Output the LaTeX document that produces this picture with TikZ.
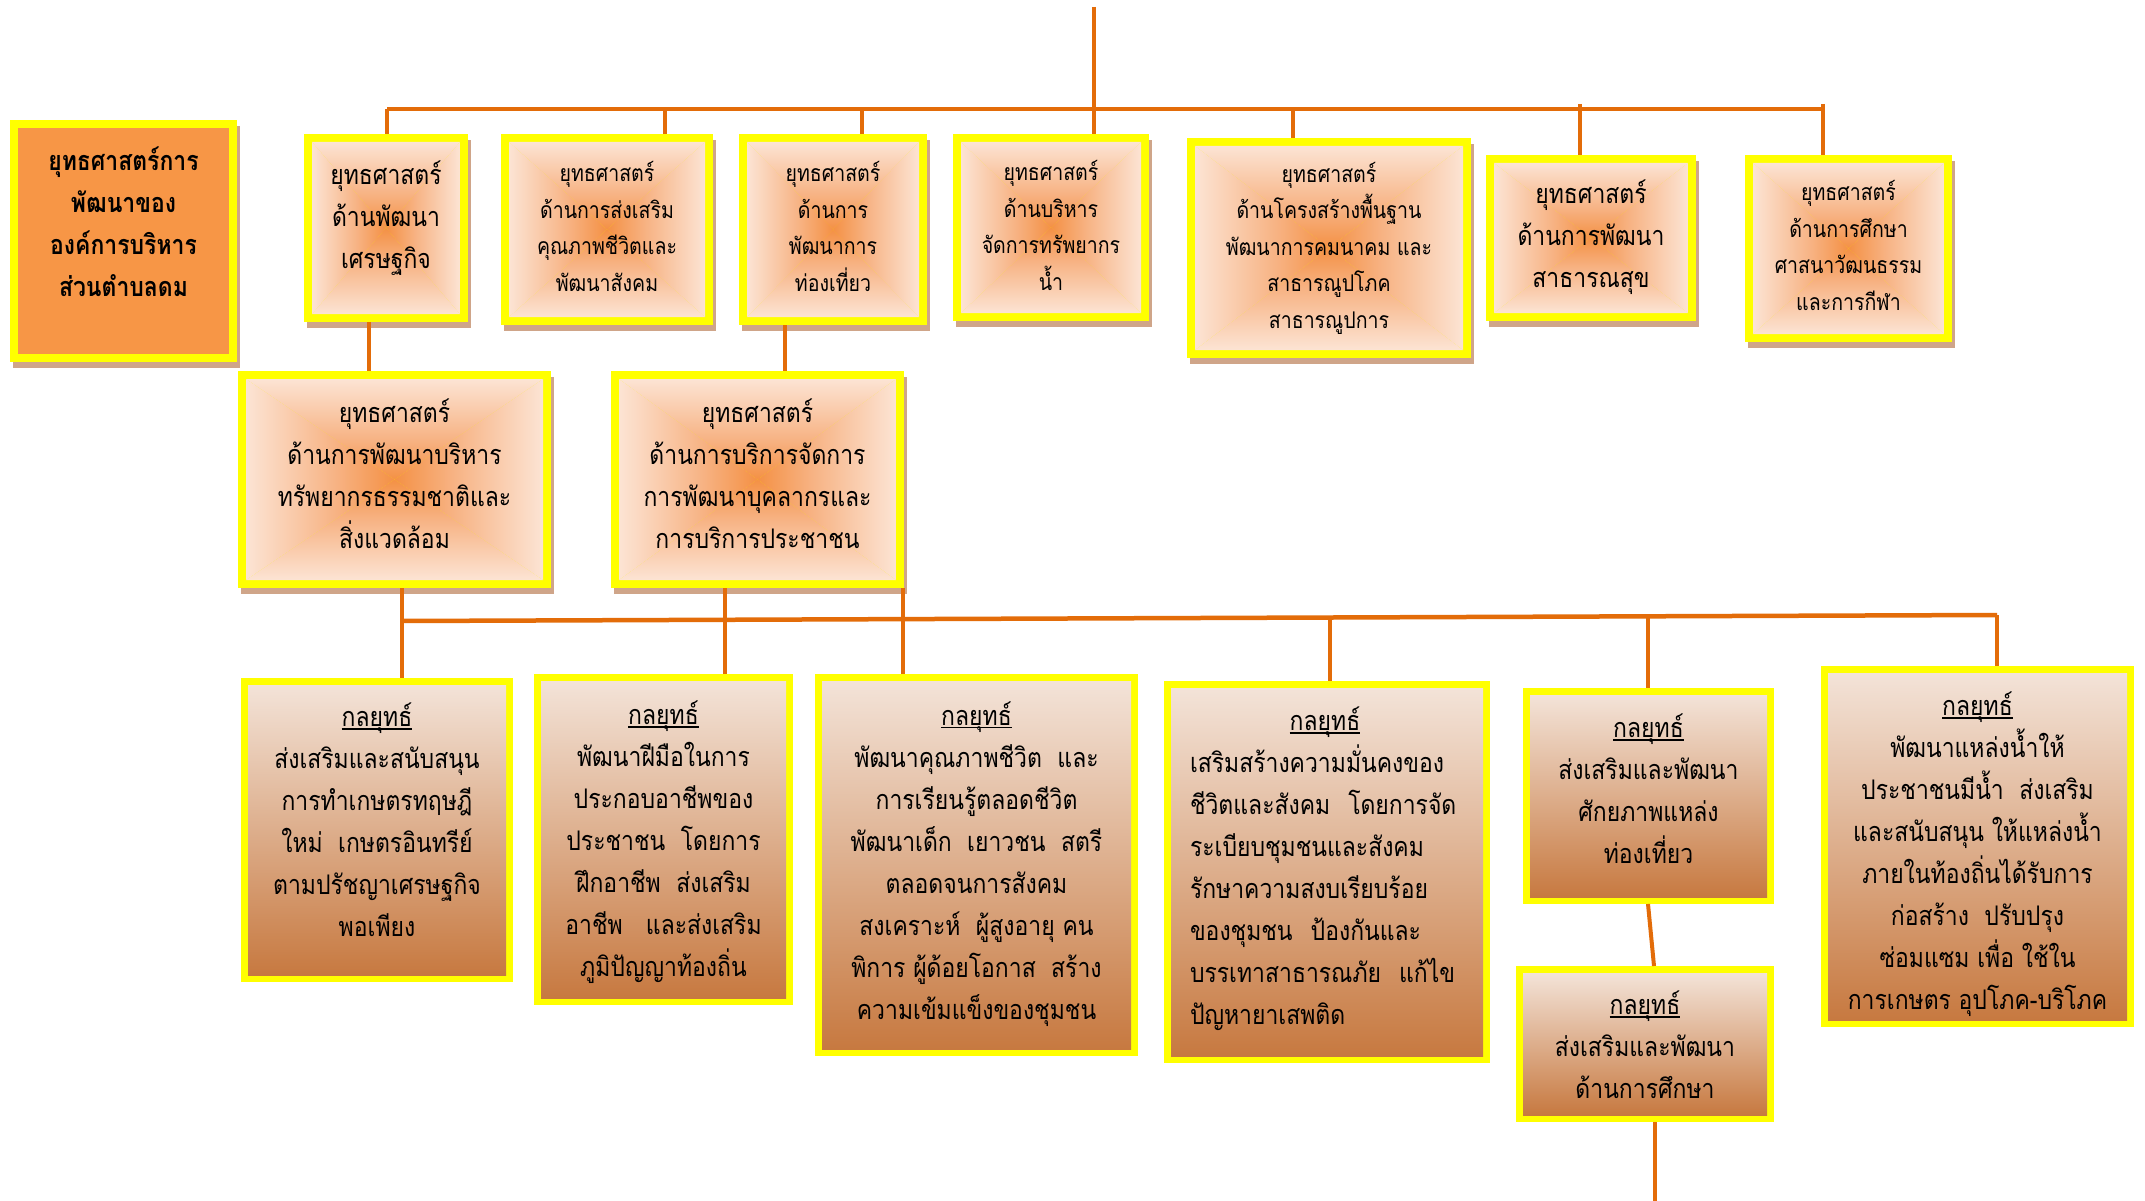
\documentclass[tikz,border=0pt]{standalone}
\usepackage{fontspec}
\newfontfamily\thai[Script=Thai,FakeStretch=0.85]{Loma}
\usetikzlibrary{calc}
\definecolor{yel}{HTML}{FFFF00}
\definecolor{lineor}{HTML}{E36C09}
\definecolor{cen}{HTML}{F49145}
\definecolor{midc}{HTML}{F7B384}
\definecolor{edge}{HTML}{FCE4D4}
\definecolor{shad}{HTML}{CFA589}
\definecolor{obox}{HTML}{F79646}
\definecolor{btop}{HTML}{F3E3D8}
\definecolor{bbot}{HTML}{C77940}
\pgfdeclareverticalshading{sUp}{100bp}{color(0bp)=(cen); color(25bp)=(cen); color(45bp)=(midc); color(75bp)=(edge); color(100bp)=(edge)}
\pgfdeclareverticalshading{sDown}{100bp}{color(0bp)=(edge); color(25bp)=(edge); color(55bp)=(midc); color(75bp)=(cen); color(100bp)=(cen)}
\pgfdeclarehorizontalshading{sRight}{100bp}{color(0bp)=(cen); color(25bp)=(cen); color(45bp)=(midc); color(75bp)=(edge); color(100bp)=(edge)}
\pgfdeclarehorizontalshading{sLeft}{100bp}{color(0bp)=(edge); color(25bp)=(edge); color(55bp)=(midc); color(75bp)=(cen); color(100bp)=(cen)}
\newcommand\Lg{\fontsize{27}{42}\selectfont}
\newcommand\Sm{\fontsize{23}{36.5}\selectfont}
\newcommand\ul[1]{\setbox0\hbox{#1}\rlap{\rule[-3pt]{\wd0}{1.6pt}}\box0}
% star-gradient box: [font]{name}{x1}{y1}{x2}{y2}{dy}{text}
\newcommand\starbox[8][\Lg]{%
  \pgfmathsetmacro\sbxa{#3+8}\pgfmathsetmacro\sbxb{#5-8}%
  \pgfmathsetmacro\sbya{#4+8}\pgfmathsetmacro\sbyb{#6-8}%
  \pgfmathsetmacro\sbcx{(#3+#5)/2}\pgfmathsetmacro\sbcy{(#4+#6)/2}%
  \pgfmathsetmacro\sbty{\sbcy+(#7)}%
  \fill[shad] (#3+3,#4+6) rectangle (#5+3,#6+6);
  \node[frame, minimum width={#5-#3}, minimum height={#6-#4}] (#2) at (\sbcx,\sbcy) {};
  \begin{scope}\clip (\sbxa,\sbya)--(\sbxb,\sbya)--(\sbcx,\sbcy)--cycle;
    \shade[shading=sUp] (\sbxa,\sbya) rectangle (\sbxb,\sbcy);\end{scope}
  \begin{scope}\clip (\sbxa,\sbyb)--(\sbxb,\sbyb)--(\sbcx,\sbcy)--cycle;
    \shade[shading=sDown] (\sbxa,\sbcy) rectangle (\sbxb,\sbyb);\end{scope}
  \begin{scope}\clip (\sbxa,\sbya)--(\sbxa,\sbyb)--(\sbcx,\sbcy)--cycle;
    \shade[shading=sLeft] (\sbxa,\sbya) rectangle (\sbcx,\sbyb);\end{scope}
  \begin{scope}\clip (\sbxb,\sbya)--(\sbxb,\sbyb)--(\sbcx,\sbcy)--cycle;
    \shade[shading=sRight] (\sbcx,\sbya) rectangle (\sbxb,\sbyb);\end{scope}
  \node[txt, font=\thai#1] (#2t) at (\sbcx,\sbty) {#8};
}
% vertical-gradient box: [text options]{name}{x1}{y1}{x2}{y2}{dy}{text}
\newcommand\gradbox[8][]{%
  \pgfmathsetmacro\sbxa{#3+7}\pgfmathsetmacro\sbxb{#5-7}%
  \pgfmathsetmacro\sbya{#4+7}\pgfmathsetmacro\sbyb{#6-7}%
  \pgfmathsetmacro\sbcx{(#3+#5)/2}\pgfmathsetmacro\sbcy{(#4+#6)/2}%
  \pgfmathsetmacro\sbty{\sbcy+(#7)}%
  \node[frame, minimum width={#5-#3}, minimum height={#6-#4}] (#2) at (\sbcx,\sbcy) {};
  \shade[top color=btop, bottom color=bbot] (\sbxa,\sbya) rectangle (\sbxb,\sbyb);
  \node[txt, font=\thai\Lg, #1] (#2t) at (\sbcx,\sbty) {#8};
}
\begin{document}
\begin{tikzpicture}[x=1pt,y=-1pt,
  conn/.style={draw=lineor, line width=4pt},
  bus/.style={draw=lineor, line width=4.5pt},
  frame/.style={fill=yel, inner sep=0pt, outer sep=0pt},
  txt/.style={align=center, inner sep=0pt, text=black}]
\useasboundingbox[fill=white] (0,0) rectangle (2145,1201);

% left title box
\fill[shad] (13,126) rectangle (240,368);
\node[frame, minimum width=227, minimum height=242] (L) at (123.5,241) {};
\fill[obox] (18,128) rectangle (229,354);
\node[txt, font=\thai\bfseries\Lg] (Lt) at (123.5,222) {ยุทธศาสตร์การ\\พัฒนาของ\\องค์การบริหาร\\ส่วนตำบลดม};

% top row
\starbox{b1}{304}{134}{468}{322}{-10}{ยุทธศาสตร์\\ด้านพัฒนา\\เศรษฐกิจ}
\starbox[\Sm]{b2}{501}{134}{713}{325}{-3}{ยุทธศาสตร์\\ด้านการส่งเสริม\\คุณภาพชีวิตและ\\พัฒนาสังคม}
\starbox[\Sm]{b3}{739}{134}{927}{325}{-3}{ยุทธศาสตร์\\ด้านการ\\พัฒนาการ\\ท่องเที่ยว}
\starbox[\Sm]{b4}{953}{134}{1149}{321}{-2}{ยุทธศาสตร์\\ด้านบริหาร\\จัดการทรัพยากร\\น้ำ}
\starbox[\Sm]{b5}{1187}{138}{1471}{358}{0}{ยุทธศาสตร์\\ด้านโครงสร้างพื้นฐาน\\พัฒนาการคมนาคม และ\\สาธารณูปโภค\\สาธารณูปการ}
\starbox{b6}{1486}{155}{1696}{321}{-1}{ยุทธศาสตร์\\ด้านการพัฒนา\\สาธารณสุข}
\starbox[\Sm]{b7}{1745}{155}{1952}{342}{-3}{ยุทธศาสตร์\\ด้านการศึกษา\\ศาสนาวัฒนธรรม\\และการกีฬา}

% second row
\starbox{A}{238}{371}{551}{588}{-6}{ยุทธศาสตร์\\ด้านการพัฒนาบริหาร\\ทรัพยากรธรรมชาติและ\\สิ่งแวดล้อม}
\starbox{B}{611}{371}{904}{588}{-6}{ยุทธศาสตร์\\ด้านการบริการจัดการ\\การพัฒนาบุคลากรและ\\การบริการประชาชน}

% bottom row
\gradbox{C}{241}{678}{513}{982}{-10}{\ul{กลยุทธ์}\\ส่งเสริมและสนับสนุน\\การทำเกษตรทฤษฎี\\ใหม่~~เกษตรอินทรีย์\\ตามปรัชญาเศรษฐกิจ\\พอเพียง}
\gradbox{D}{534}{674}{793}{1005}{3}{\ul{กลยุทธ์}\\พัฒนาฝีมือในการ\\ประกอบอาชีพของ\\ประชาชน~~โดยการ\\ฝึกอาชีพ~~ส่งเสริม\\อาชีพ~~~และส่งเสริม\\ภูมิปัญญาท้องถิ่น}
\gradbox{E}{815}{674}{1138}{1056}{-1}{\ul{กลยุทธ์}\\พัฒนาคุณภาพชีวิต~~และ\\การเรียนรู้ตลอดชีวิต\\พัฒนาเด็ก~~เยาวชน~~สตรี\\ตลอดจนการสังคม\\สงเคราะห์~~ผู้สูงอายุ คน\\พิการ ผู้ด้อยโอกาส~~สร้าง\\ความเข้มแข็งของชุมชน}
\gradbox[align=left, text width=270, xshift=-2]{F}{1164}{681}{1490}{1063}{-3}{\makebox[270pt]{\ul{กลยุทธ์}}\\เสริมสร้างความมั่นคงของ\\ชีวิตและสังคม~~โดยการจัด\\ระเบียบชุมชนและสังคม\\รักษาความสงบเรียบร้อย\\ของชุมชน~~ป้องกันและ\\บรรเทาสาธารณภัย~~แก้ไข\\ปัญหายาเสพติด}
\gradbox{G}{1523}{688}{1774}{904}{-7}{\ul{กลยุทธ์}\\ส่งเสริมและพัฒนา\\ศักยภาพแหล่ง\\ท่องเที่ยว}
\gradbox{H}{1516}{966}{1774}{1122}{1}{\ul{กลยุทธ์}\\ส่งเสริมและพัฒนา\\ด้านการศึกษา}
\gradbox{I}{1821}{666}{2134}{1027}{8}{\ul{กลยุทธ์}\\พัฒนาแหล่งน้ำให้\\ประชาชนมีน้ำ~~ส่งเสริม\\และสนับสนุน ให้แหล่งน้ำ\\ภายในท้องถิ่นได้รับการ\\ก่อสร้าง~~ปรับปรุง\\ซ่อมแซม เพื่อ ใช้ใน\\การเกษตร อุปโภค-บริโภค}

% connector coordinates
\coordinate (top) at (1094,7);
\coordinate (t1) at (387,109);
\coordinate (t2) at (665,109);
\coordinate (t3) at (862,109);
\coordinate (t4) at (1094,109);
\coordinate (t5) at (1293,109);
\coordinate (t6) at (1580,104);
\coordinate (t7) at (1823,104);
\coordinate (kA) at (369,350);
\coordinate (kB) at (785,350);
\coordinate (l1) at (402,621);
\coordinate (l2) at (725,620);
\coordinate (l3) at (903,619);
\coordinate (l4) at (1330,618);
\coordinate (l5) at (1648,616);
\coordinate (l6) at (1997,615);
\coordinate (gh) at (1654,950);
\coordinate (bot) at (1655,1201);

% top bus and drops
\draw[bus] (t1) -- (t7 |- t1);
\draw[conn] (top) -- (top |- b4.north);
\draw[conn] (t1) -- (t1 |- b1.north);
\draw[conn] (t2) -- (t2 |- b2.north);
\draw[conn] (t3) -- (t3 |- b3.north);
\draw[conn] (t5) -- (t5 |- b5.north);
\draw[conn] (t6) -- (t6 |- b6.north);
\draw[conn] (t7) -- (t7 |- b7.north);
% second row links
\draw[conn] (kA |- b1.south) -- (kA |- A.north);
\draw[conn] (kB |- b3.south) -- (kB |- B.north);
% lower bus and drops
\draw[bus] (l1) -- (l6);
\draw[conn] (l1 |- A.south) -- (l1 |- C.north);
\draw[conn] (l2 |- B.south) -- (l2 |- D.north);
\draw[conn] (l3 |- B.south) -- (l3 |- E.north);
\draw[conn] (l4) -- (l4 |- F.north);
\draw[conn] (l5) -- (l5 |- G.north);
\draw[conn] (l6) -- (l6 |- I.north);
\draw[conn] (l5 |- G.south) -- (gh |- H.north);
\draw[conn] (bot |- H.south) -- (bot);
\end{tikzpicture}
\end{document}
